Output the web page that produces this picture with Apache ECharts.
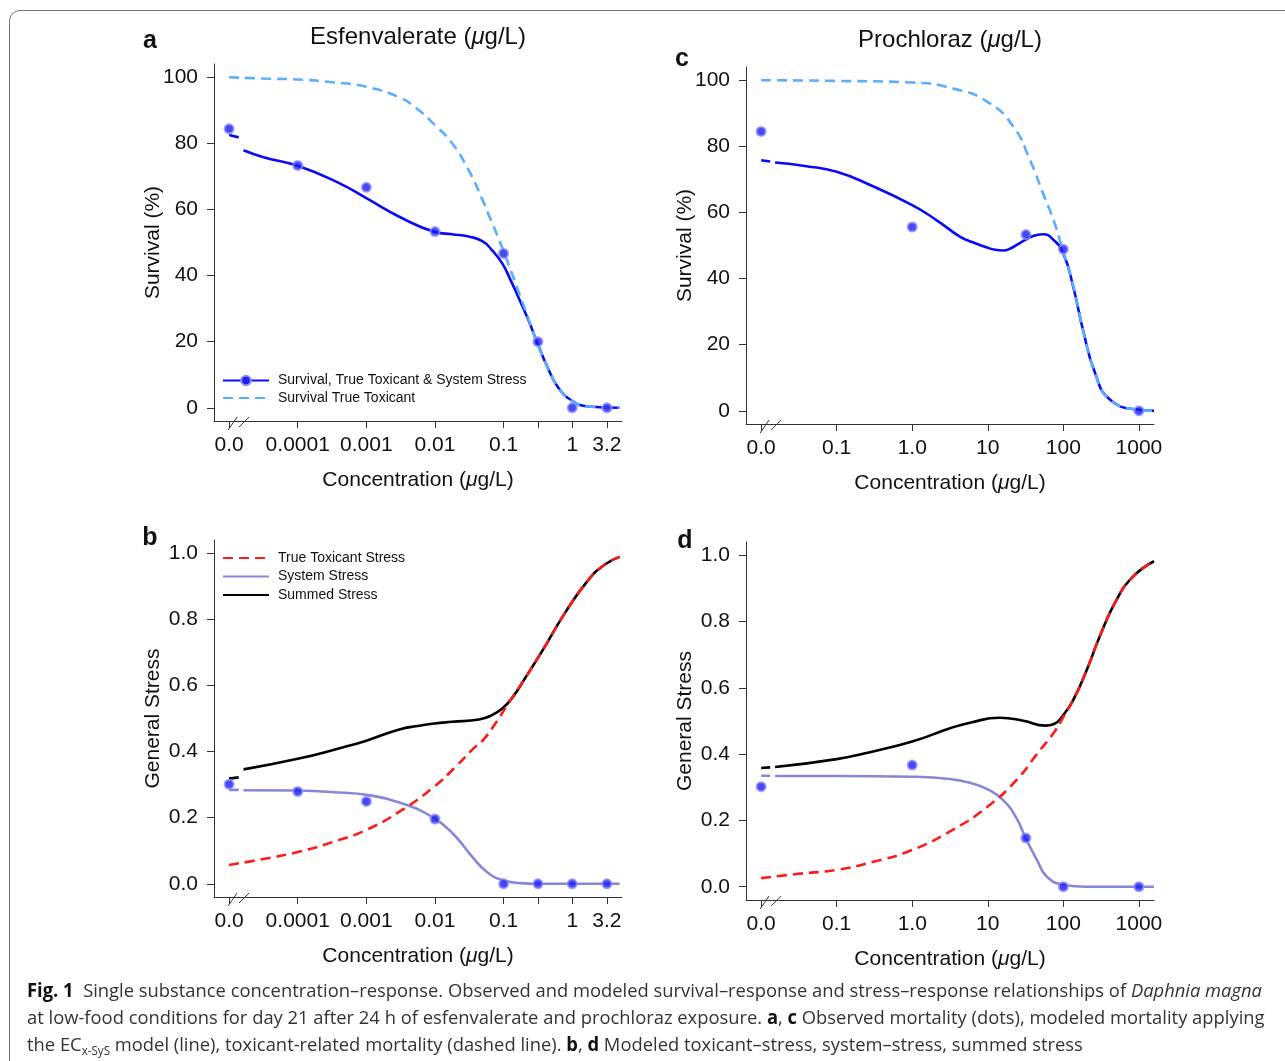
<!DOCTYPE html>
<html>
<head>
<meta charset="utf-8">
<script src="https://cdn.jsdelivr.net/npm/echarts@6/dist/echarts.min.js"></script>
<style>
html, body { margin: 0; padding: 0; background: #fff; }
#frame { position: absolute; left: 9px; top: 10px; width: 1400px; height: 1200px;
         border: 1.5px solid #777; border-radius: 11px; }
#main { position: absolute; left: 0; top: 0; width: 1285px; height: 1061px; }
#caption { position: absolute; left: 27px; top: 977px; font-family: "Open Sans", sans-serif;
           font-size: 19px; line-height: 27px; color: #333; }
#caption .ln { white-space: nowrap; transform-origin: 0 0; }
#caption b { color: #111; }
#caption sub { font-size: 12px; vertical-align: -4px; line-height: 0; }
</style>
</head>
<body>
<div id="frame"></div>
<div id="main"></div>
<div id="caption">
  <div class="ln"><span><b>Fig. 1</b>&nbsp; Single substance concentration–response. Observed and modeled survival–response and stress–response relationships of <i>Daphnia magna</i></span></div>
  <div class="ln"><span>at low-food conditions for day 21 after 24 h of esfenvalerate and prochloraz exposure. <b>a</b>, <b>c</b> Observed mortality (dots), modeled mortality applying</span></div>
  <div class="ln"><span>the EC<sub>x-SyS</sub> model (line), toxicant-related mortality (dashed line). <b>b</b>, <b>d</b> Modeled toxicant–stress, system–stress, summed stress</span></div>
</div>
<script>
// x values are log10(concentration); the control is drawn at the left end of each axis

// --- Esfenvalerate (panels a, b)
var esfTicks = [-5, -4, -3, -2, -1, -0.5, 0, 0.505]
var esfTickLabels = ['0.0', '0.0001', '0.001', '0.01', '0.1', '', '1', '3.2']
var esfDose = [-5, -4, -3, -2, -1, -0.5, 0, 0.505]
var esfSurvObs = [84.4, 73.3, 66.7, 53.3, 46.7, 20, 0, 0]
var esfSysObs = [0.301, 0.279, 0.249, 0.196, 0, 0, 0, 0]

var esfCtrlX = [-5, -4.86]
var esfSurvCtrl = [82.5, 81.8]
var esfSurvX = [-4.79, -4.5, -4.0, -3.39, -3.0, -2.52, -2.0, -1.75, -1.51, -1.31, -1.17, -1.02, -0.9, -0.78, -0.64, -0.52, -0.35, -0.2, 0.0, 0.23, 0.69]
var esfSurv = [77.9, 75.8, 73.2, 67.9, 63.4, 57.8, 53.2, 52.5, 51.8, 50.4, 47.7, 43.7, 38.7, 33.2, 26.6, 20.2, 11.8, 6.0, 2.1, 0.4, 0]
var esfToxSurvX = [-5, -4.5, -4, -3.5, -3, -2.52, -2.28, -2, -1.75, -1.5, -1.31, -1.2, -1.05, -0.93, -0.78, -0.64, -0.52, -0.35, -0.2, 0, 0.23, 0.69]
var esfToxSurv = [100, 99.6, 99.3, 98.5, 97.1, 93.9, 90.8, 85.5, 80.0, 71.5, 63.0, 57.5, 50.0, 43.5, 35.0, 27.0, 20.2, 11.8, 6.0, 2.1, 0.4, 0]

var esfSysCtrl = [0.284, 0.284]
var esfSumCtrl = [0.318, 0.322]
var esfSysX = [-4.79, -4.0, -3.39, -3.0, -2.52, -2.01, -1.70, -1.46, -1.22, -0.98, -0.75, -0.52, 0, 0.69]
var esfSys = [0.283, 0.282, 0.276, 0.269, 0.246, 0.198, 0.143, 0.082, 0.032, 0.009, 0.002, 0, 0, 0]
var esfSumX = [-4.79, -4.0, -3.39, -3.0, -2.52, -2.23, -2.01, -1.75, -1.36, -1.17, -1.02, -0.88, -0.69, -0.40, -0.11, 0.23, 0.47, 0.69]
var esfSum = [0.346, 0.378, 0.41, 0.433, 0.467, 0.478, 0.485, 0.49, 0.497, 0.51, 0.53, 0.561, 0.621, 0.717, 0.818, 0.918, 0.965, 0.989]
var esfToxX = [-5, -4.5, -4.0, -3.39, -3.0, -2.52, -2.01, -1.70, -1.46, -1.29, -1.12, -0.93, -0.69, -0.40, -0.11, 0.23, 0.47, 0.69]
var esfTox = [0.057, 0.075, 0.096, 0.133, 0.163, 0.218, 0.294, 0.354, 0.405, 0.437, 0.485, 0.546, 0.621, 0.717, 0.818, 0.918, 0.965, 0.989]

// --- Prochloraz (panels c, d)
var proTicks = [-2, -1, 0, 1, 2, 3]
var proTickLabels = ['0.0', '0.1', '1.0', '10', '100', '1000']
var proDose = [-2, 0, 1.505, 2, 3]
var proSurvObs = [84.5, 55.6, 53.3, 48.9, 0]
var proSysObs = [0.302, 0.367, 0.147, 0, 0]

var proCtrlX = [-2, -1.88]
var proSurvCtrl = [75.8, 75.4]
var proSurvX = [-1.815, -1.4, -1, -0.558, 0, 0.32, 0.63, 0.8, 1.0, 1.1, 1.2, 1.3, 1.45, 1.6, 1.73, 1.87, 2.0, 2.13, 2.26, 2.42, 2.62, 3.0, 3.2]
var proSurv = [75.1, 74.0, 72.3, 68.3, 62.2, 57.7, 52.7, 51.0, 49.3, 48.7, 48.5, 49.1, 51.1, 52.9, 53.4, 51.7, 47.6, 37.6, 24.5, 11.4, 3.3, 0.3, 0]
var proToxSurvX = [-2, -1, 0, 0.54, 1.0, 1.34, 1.56, 1.73, 1.87, 1.98, 2.13, 2.26, 2.42, 2.62, 3.0, 3.2]
var proToxSurv = [100, 99.8, 99.3, 97.5, 93.4, 85.9, 75.8, 65.8, 57.7, 49.6, 38.0, 24.5, 11.4, 3.3, 0.3, 0]

var proSysCtrl = [0.335, 0.335]
var proSumCtrl = [0.358, 0.36]
var proSysX = [-1.815, -1, 0, 0.5, 0.8, 1.0, 1.2, 1.38, 1.5, 1.65, 1.78, 2.0, 2.3, 3.2]
var proSys = [0.334, 0.334, 0.332, 0.325, 0.311, 0.294, 0.262, 0.207, 0.147, 0.081, 0.031, 0.006, 0, 0]
var proSumX = [-1.815, -1, -0.56, 0, 0.5, 0.765, 1.16, 1.47, 1.76, 1.87, 2.0, 2.13, 2.31, 2.48, 2.7, 2.92, 3.2]
var proSum = [0.361, 0.385, 0.406, 0.438, 0.478, 0.495, 0.51, 0.501, 0.486, 0.49, 0.518, 0.563, 0.654, 0.754, 0.864, 0.935, 0.982]
var proToxX = [-2, -1.5, -1, -0.5, 0, 0.54, 1.0, 1.38, 1.65, 1.89, 2.02, 2.13, 2.31, 2.48, 2.7, 2.92, 3.2]
var proTox = [0.026, 0.039, 0.051, 0.076, 0.111, 0.172, 0.242, 0.322, 0.40, 0.47, 0.52, 0.563, 0.654, 0.754, 0.864, 0.935, 0.982]

var survTicks = [0, 20, 40, 60, 80, 100]
var stressTicks = [0, 0.2, 0.4, 0.6, 0.8, 1.0]

var FONT = '"Liberation Sans", Arial, Helvetica, sans-serif'
var BLUE = '#0a0af5'
var LIGHTBLUE = '#5aaeff'
var PURPLE = '#8787d6'
var RED = '#ff1a1a'

var zip = function(xs, ys) {
    return xs.map(function(x, i) { return [x, ys[i]] })
}

var labelFor = function(ticks, labels) {
    return function(v) {
        for (var i = 0; i < ticks.length; i++) {
            if (Math.abs(ticks[i] - v) < 1e-6) return labels[i]
        }
        return ''
    }
}

var xAxisFor = function(grid, min, max, ticks, labels) {
    var labTicks = ticks.filter(function(t, i) { return labels[i] !== '' })
    return {
        type: 'value', gridIndex: grid, min: min, max: max,
        name: 'Concentration ({i|μ}g/L)', nameLocation: 'middle', nameGap: 49,
        nameTextStyle: { fontFamily: FONT, fontSize: 21, color: '#111',
            rich: { i: { fontFamily: FONT, fontSize: 21, fontStyle: 'italic', color: '#111' } } },
        axisLine: { show: true, onZero: false, lineStyle: { color: '#333', width: 1 } },
        axisTick: { show: true, inside: false, length: 7, customValues: ticks, lineStyle: { color: '#333' } },
        axisLabel: { customValues: labTicks, margin: 14, fontFamily: FONT, fontSize: 21, color: '#111',
            formatter: labelFor(ticks, labels) },
        splitLine: { show: false }
    }
}

var yAxisFor = function(grid, min, max, ticks, name, digits) {
    return {
        type: 'value', gridIndex: grid, min: min, max: max,
        name: name, nameLocation: 'middle', nameGap: 50, nameMoveOverlap: false,
        nameTextStyle: { fontFamily: FONT, fontSize: 21, color: '#111' },
        axisLine: { show: true, onZero: false, lineStyle: { color: '#333', width: 1 } },
        axisTick: { show: true, inside: false, length: 7, customValues: ticks, lineStyle: { color: '#333' } },
        axisLabel: { customValues: ticks, margin: 16, fontFamily: FONT, fontSize: 21, color: '#111',
            formatter: function(v) { return v.toFixed(digits) } },
        splitLine: { show: false }
    }
}

var lineSeries = function(name, grid, data, color, dashed, z) {
    return {
        name: name, type: 'line', xAxisIndex: grid, yAxisIndex: grid,
        data: data, smooth: 0.5, symbol: 'none', showSymbol: false, z: z,
        lineStyle: { color: color, width: 2.6, type: dashed ? [10, 6] : 'solid', cap: 'butt' },
        itemStyle: { color: color },
        emphasis: { disabled: true }, silent: true
    }
}

var dotSeries = function(grid, data) {
    return {
        type: 'scatter', xAxisIndex: grid, yAxisIndex: grid, data: data, z: 10,
        symbol: 'circle', symbolSize: 9,
        itemStyle: { color: '#1c1cf0', borderColor: '#8c8cff', borderWidth: 2 },
        emphasis: { disabled: true }, silent: true
    }
}

var myChart = echarts.init(document.querySelector('#main'), null, { renderer: 'canvas' })

var S1 = 'Survival, True Toxicant & System Stress'
var S2 = 'Survival True Toxicant'

var survMain = lineSeries(S1, 0, zip(esfSurvX, esfSurv), BLUE, false, 3)
survMain.symbol = 'circle'
survMain.symbolSize = 9
survMain.itemStyle = { color: '#1c1cf0', borderColor: '#8c8cff', borderWidth: 2 }

var noDot = { opacity: 0 }

var titleText = function(id, x, y, name) {
    return {
        type: 'text', id: id, x: x, y: y,
        style: { text: name + ' ({i|μ}g/L)', fontFamily: FONT, fontSize: 24, fill: '#111',
            align: 'center', verticalAlign: 'middle',
            rich: { i: { fontFamily: FONT, fontSize: 24, fontStyle: 'italic', fill: '#111' } } }
    }
}
var letter = function(id, x, y, t) {
    return {
        type: 'text', id: id, x: x, y: y,
        style: { text: t, fontFamily: FONT, fontSize: 25, fontWeight: 'bold', fill: '#111',
            align: 'center', verticalAlign: 'middle' }
    }
}

var legendText = { fontFamily: FONT, fontSize: 14, color: '#111', padding: [0, 0, 0, 4] }

var option = {
    backgroundColor: 'transparent',
    animation: false,
    grid: [
        { left: 214, top: 64, width: 408, height: 357 },
        { left: 214, top: 540, width: 408, height: 357 },
        { left: 746, top: 67, width: 408, height: 357 },
        { left: 746, top: 542, width: 408, height: 358 }
    ],
    xAxis: [
        xAxisFor(0, -5.22, 0.725, esfTicks, esfTickLabels),
        xAxisFor(1, -5.22, 0.725, esfTicks, esfTickLabels),
        xAxisFor(2, -2.2, 3.2, proTicks, proTickLabels),
        xAxisFor(3, -2.2, 3.2, proTicks, proTickLabels)
    ],
    yAxis: [
        yAxisFor(0, -4, 104, survTicks, 'Survival (%)', 0),
        yAxisFor(1, -0.04, 1.04, stressTicks, 'General Stress', 1),
        yAxisFor(2, -4, 104, survTicks, 'Survival (%)', 0),
        yAxisFor(3, -0.04, 1.04, stressTicks, 'General Stress', 1)
    ],
    legend: [
        {
            data: [{ name: S1 }, { name: S2, itemStyle: noDot }], orient: 'vertical', left: 222, top: 373.5,
            itemWidth: 46, itemHeight: 12, itemGap: 3.5, padding: 0, selectedMode: false,
            textStyle: legendText
        },
        {
            data: ['True Toxicant Stress', 'System Stress', 'Summed Stress'], orient: 'vertical',
            left: 222, top: 551, itemWidth: 46, itemHeight: 12, itemGap: 4.5, padding: 0, selectedMode: false,
            itemStyle: noDot, textStyle: legendText
        }
    ],
    series: [
        // a
        survMain,
        lineSeries(S1 + ' ctrl', 0, zip(esfCtrlX, esfSurvCtrl), BLUE, false, 3),
        lineSeries(S2, 0, zip(esfToxSurvX, esfToxSurv), LIGHTBLUE, true, 4),
        dotSeries(0, zip(esfDose, esfSurvObs)),
        // b
        lineSeries('System Stress', 1, zip(esfSysX, esfSys), PURPLE, false, 3),
        lineSeries('sys ctrl b', 1, zip(esfCtrlX, esfSysCtrl), PURPLE, false, 3),
        lineSeries('Summed Stress', 1, zip(esfSumX, esfSum), '#000', false, 3),
        lineSeries('sum ctrl b', 1, zip(esfCtrlX, esfSumCtrl), '#000', false, 3),
        lineSeries('True Toxicant Stress', 1, zip(esfToxX, esfTox), RED, true, 4),
        dotSeries(1, zip(esfDose, esfSysObs)),
        // c
        lineSeries('surv c', 2, zip(proSurvX, proSurv), BLUE, false, 3),
        lineSeries('surv ctrl c', 2, zip(proCtrlX, proSurvCtrl), BLUE, false, 3),
        lineSeries('tox surv c', 2, zip(proToxSurvX, proToxSurv), LIGHTBLUE, true, 4),
        dotSeries(2, zip(proDose, proSurvObs)),
        // d
        lineSeries('sys d', 3, zip(proSysX, proSys), PURPLE, false, 3),
        lineSeries('sys ctrl d', 3, zip(proCtrlX, proSysCtrl), PURPLE, false, 3),
        lineSeries('sum d', 3, zip(proSumX, proSum), '#000', false, 3),
        lineSeries('sum ctrl d', 3, zip(proCtrlX, proSumCtrl), '#000', false, 3),
        lineSeries('tox d', 3, zip(proToxX, proTox), RED, true, 4),
        dotSeries(3, zip(proDose, proSysObs))
    ]
}

myChart.setOption(option)

// titles, panel letters and the axis-break marks
var graphics = [
    titleText('t1', 418, 37, 'Esfenvalerate'),
    titleText('t2', 950, 40, 'Prochloraz'),
    letter('la', 150, 41, 'a'),
    letter('lb', 150, 538, 'b'),
    letter('lc', 682, 59, 'c'),
    letter('ld', 685, 541, 'd')
]
var ctrlPos = [[-5, -4], [-5, -0.04], [-2, -4], [-2, -0.04]]
ctrlPos.forEach(function(p, g) {
    var px = myChart.convertToPixel({ gridIndex: g }, p)
    var x0 = px[0], y0 = px[1]
    graphics.push({ type: 'line', id: 'bk1' + g, z: 20,
        shape: { x1: x0 - 1, y1: y0 + 9, x2: x0 + 8, y2: y0 - 4 }, style: { stroke: '#333', lineWidth: 1 } })
    graphics.push({ type: 'line', id: 'bk2' + g, z: 20,
        shape: { x1: x0 + 10, y1: y0 + 6, x2: x0 + 20, y2: y0 - 4 }, style: { stroke: '#333', lineWidth: 1 } })
})
myChart.setOption({ graphic: graphics })

// squeeze caption lines to the width of the printed caption
var lines = document.querySelectorAll('#caption .ln')
var w1 = lines[0].querySelector('span').getBoundingClientRect().width
var k = 1235 / w1
lines.forEach(function(el) { el.style.transform = 'scaleX(' + k + ')' })
</script>
</body>
</html>
